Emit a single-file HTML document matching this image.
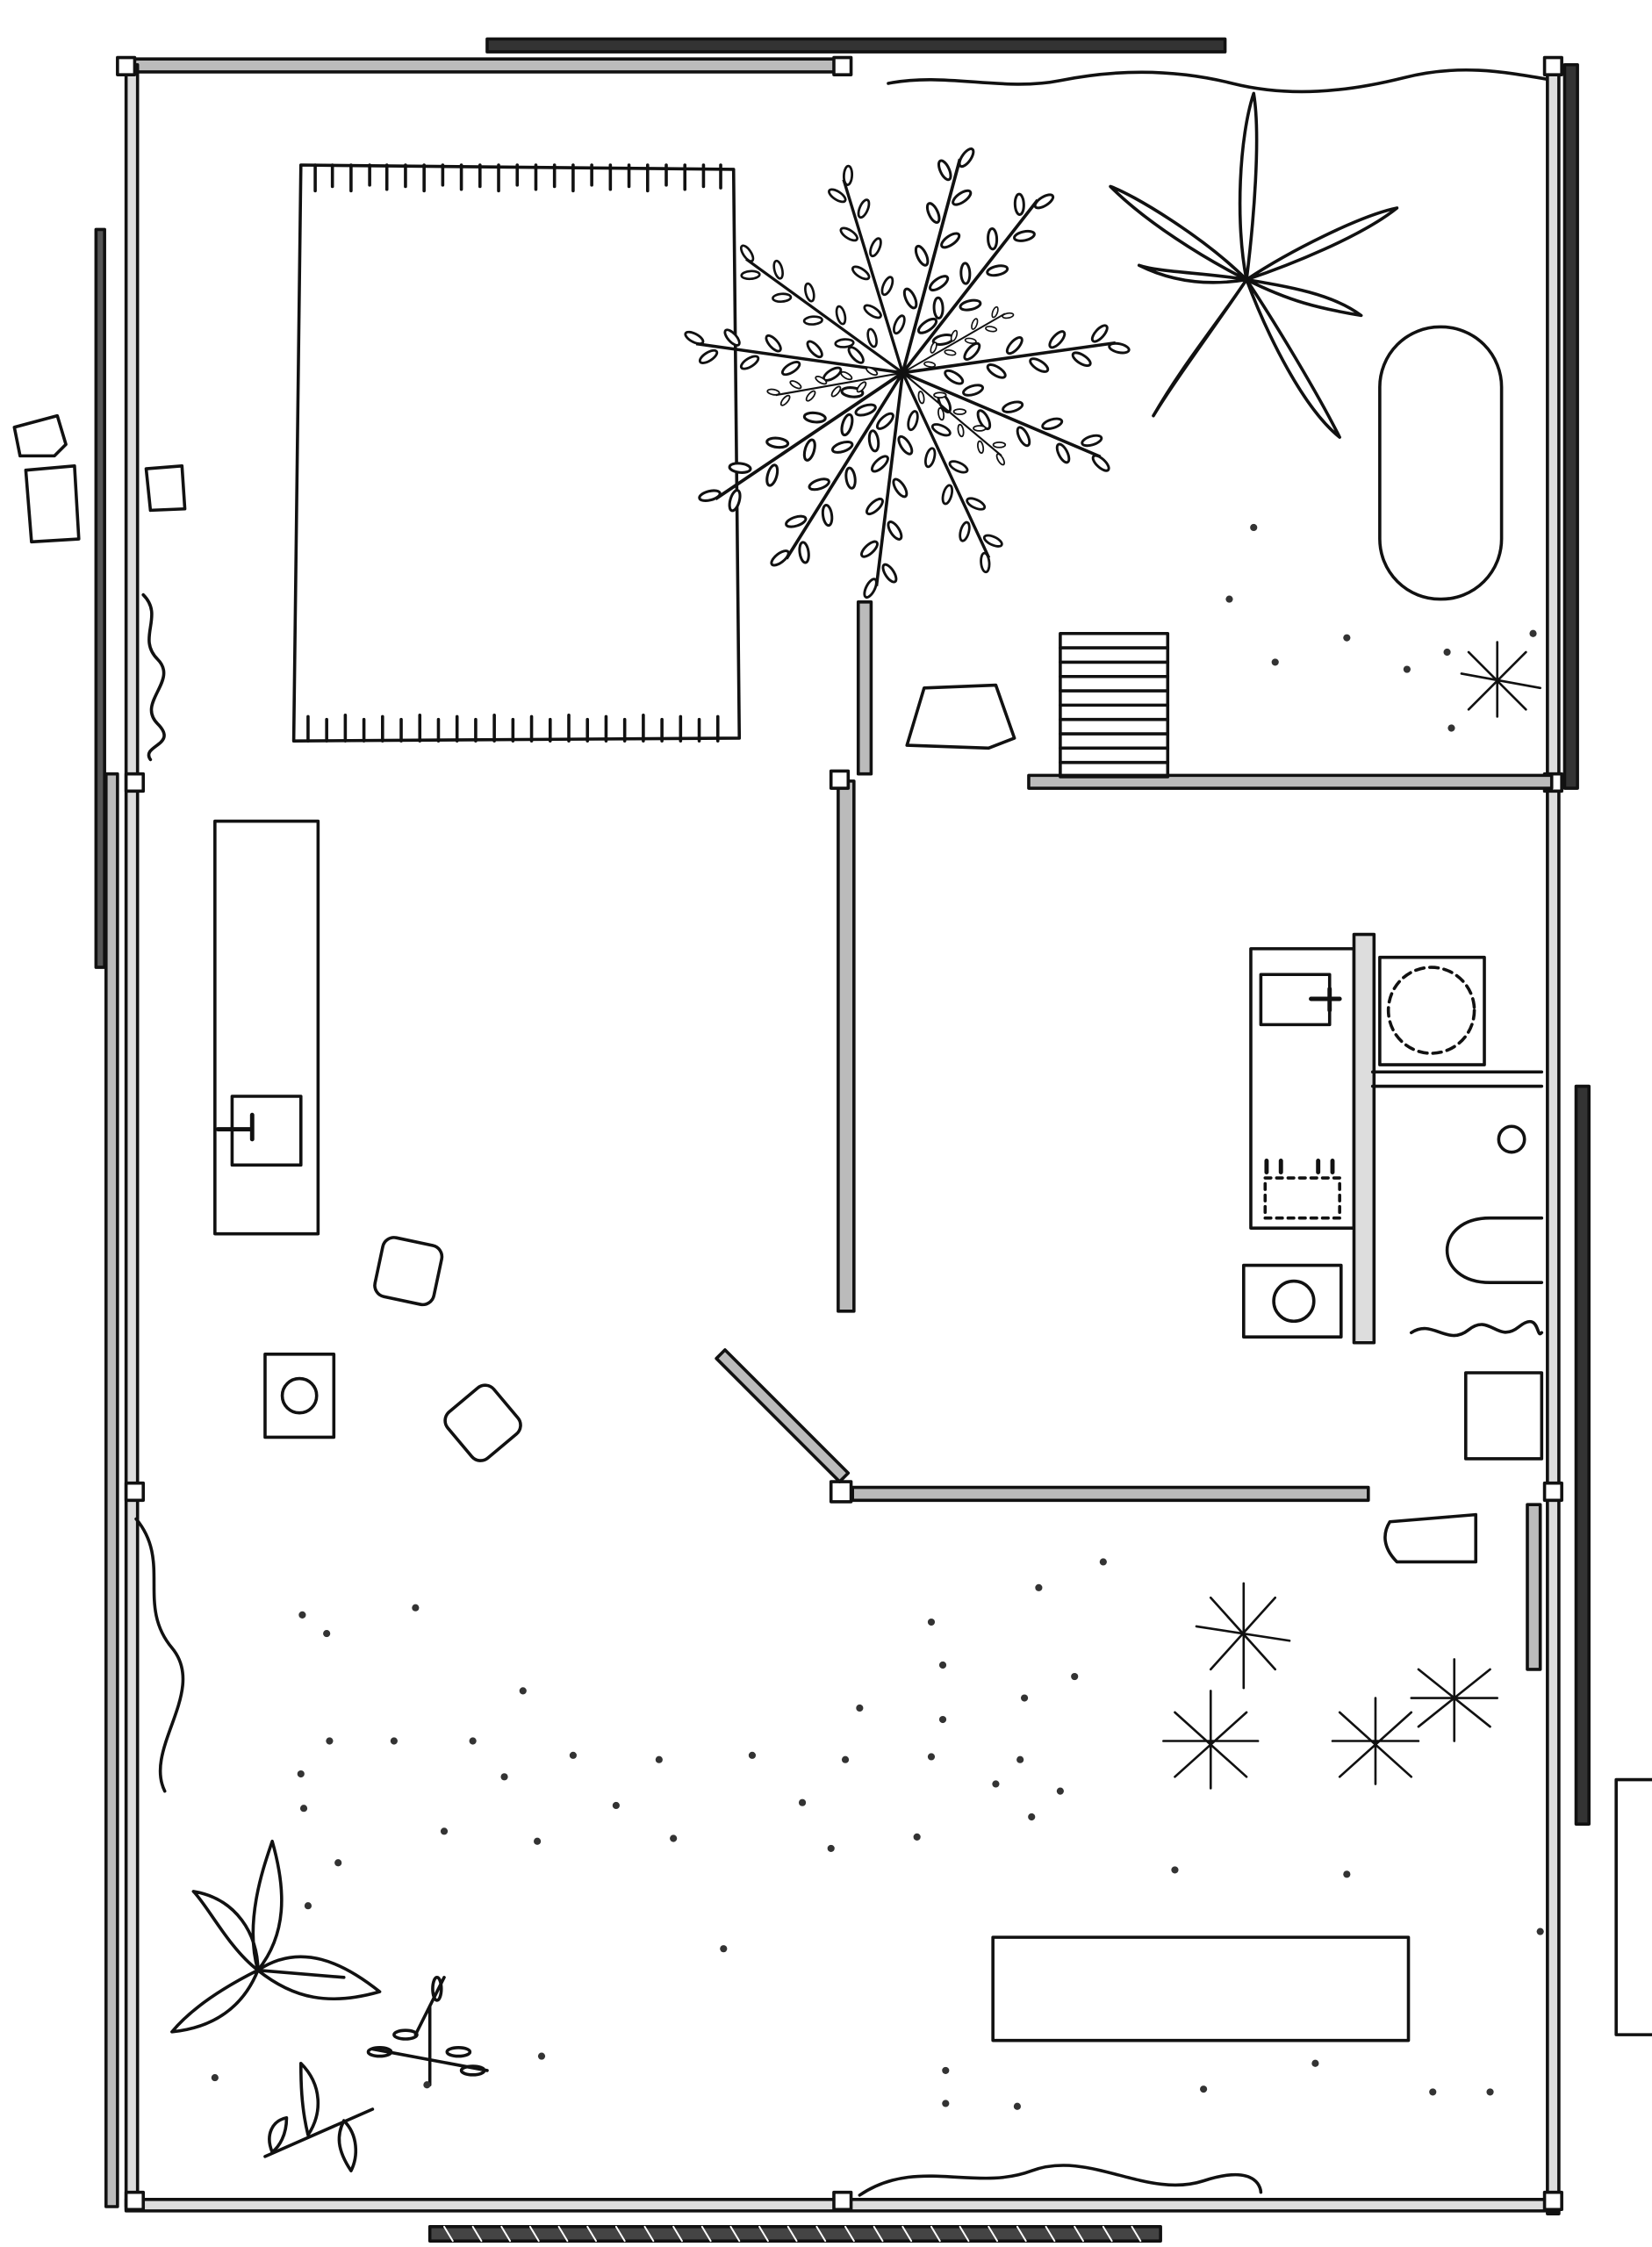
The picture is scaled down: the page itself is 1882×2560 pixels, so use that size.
<!DOCTYPE html>
<html><head><meta charset="utf-8"><style>
html,body{margin:0;padding:0;background:#fff;}
svg{display:block;}
</style></head><body>
<svg width="1882" height="2560" viewBox="0 0 1153 1568" xmlns="http://www.w3.org/2000/svg">
<defs>
<g id="br">
<path d="M0 0 L150 0" stroke="#111" stroke-width="2.2" fill="none"/>
<g fill="#fff" stroke="#111" stroke-width="1.8">
<ellipse cx="35" cy="8" rx="7" ry="3" transform="rotate(40 35 8)"/>
<ellipse cx="50" cy="-8" rx="7" ry="3" transform="rotate(-40 50 -8)"/>
<ellipse cx="65" cy="8" rx="7" ry="3" transform="rotate(40 65 8)"/>
<ellipse cx="80" cy="-8" rx="7" ry="3" transform="rotate(-40 80 -8)"/>
<ellipse cx="95" cy="8" rx="7" ry="3" transform="rotate(40 95 8)"/>
<ellipse cx="110" cy="-8" rx="7" ry="3" transform="rotate(-40 110 -8)"/>
<ellipse cx="125" cy="8" rx="7" ry="3" transform="rotate(40 125 8)"/>
<ellipse cx="140" cy="-8" rx="7" ry="3" transform="rotate(-40 140 -8)"/>
<ellipse cx="152" cy="4" rx="7" ry="3" transform="rotate(20 152 4)"/>
</g>
</g>
</defs>
<g fill="none" stroke="#111" stroke-width="2.2" stroke-linecap="round" stroke-linejoin="round">
<!-- top wall -->
<rect x="88" y="41" width="500" height="9" fill="#bbb"/>
<rect x="340" y="27" width="515" height="9" fill="#333"/>
<path d="M620 58 C660 50 700 64 740 56 S820 48 860 58 S940 64 980 54 S1050 50 1085 56"/>
<!-- right wall -->
<rect x="1080" y="45" width="8" height="1500" fill="#ddd"/>
<rect x="1092" y="45" width="9" height="505" fill="#333"/>
<rect x="1100" y="758" width="9" height="515" fill="#333"/>
<!-- left wall -->
<rect x="88" y="45" width="8" height="1495" fill="#ddd"/>
<rect x="67" y="160" width="6" height="515" fill="#555"/>
<rect x="74" y="540" width="8" height="1000" fill="#bbb"/>
<!-- bottom wall -->
<rect x="88" y="1535" width="1000" height="8" fill="#ddd"/>
<rect x="300" y="1554" width="510" height="10" fill="#444"/>
<path d="M310 1554 l6 10 M330 1554 l6 10 M350 1554 l6 10 M370 1554 l6 10 M390 1554 l6 10 M410 1554 l6 10 M430 1554 l6 10 M450 1554 l6 10 M470 1554 l6 10 M490 1554 l6 10 M510 1554 l6 10 M530 1554 l6 10 M550 1554 l6 10 M570 1554 l6 10 M590 1554 l6 10 M610 1554 l6 10 M630 1554 l6 10 M650 1554 l6 10 M670 1554 l6 10 M690 1554 l6 10 M710 1554 l6 10 M730 1554 l6 10 M750 1554 l6 10 M770 1554 l6 10 M790 1554 l6 10" stroke="#fff" stroke-width="1.2"/>
<path d="M600 1532 C640 1505 680 1530 720 1515 S800 1535 840 1522 S880 1530 880 1530"/>
<!-- corner posts -->
<rect x="82" y="40" width="12" height="12" fill="#fff"/>
<rect x="582" y="40" width="12" height="12" fill="#fff"/>
<rect x="1078" y="40" width="12" height="12" fill="#fff"/>
<rect x="88" y="540" width="12" height="12" fill="#fff"/>
<rect x="88" y="1035" width="12" height="12" fill="#fff"/>
<rect x="88" y="1530" width="12" height="12" fill="#fff"/>
<rect x="582" y="1530" width="12" height="12" fill="#fff"/>
<rect x="1078" y="1530" width="12" height="12" fill="#fff"/>
<rect x="1078" y="540" width="12" height="12" fill="#fff"/>
<rect x="1078" y="1035" width="12" height="12" fill="#fff"/>
<!-- interior walls -->
<rect x="599" y="420" width="9" height="120" fill="#bbb"/>
<rect x="585" y="545" width="11" height="370" fill="#bbb"/>
<rect x="580" y="538" width="12" height="12" fill="#fff"/>
<rect x="718" y="541" width="365" height="9" fill="#bbb"/>
<rect x="595" y="1038" width="360" height="9" fill="#bbb"/>
<rect x="580" y="1034" width="14" height="14" fill="#fff"/>
<path d="M500 948 L506 942 L592 1028 L586 1034 Z" fill="#bbb"/>
<rect x="1066" y="1050" width="9" height="115" fill="#bbb"/>
<!-- wavy curtains left -->
<path d="M100 415 C115 430 95 445 110 460 S95 490 110 505 S98 520 105 530"/>
<path d="M95 1060 C120 1090 95 1120 120 1150 S100 1220 115 1250"/>
<!-- left outside objects -->
<path d="M10 298 L40 290 L46 310 L38 318 L14 318 Z"/>
<path d="M18 328 L52 325 L55 376 L22 378 Z"/>
<path d="M102 327 L127 325 L129 355 L105 356 Z"/>
<!-- rug -->
<path d="M210 115 L512 118 L516 515 L205 517 Z"/>
<path d="M220 115v18 M232 115v15 M245 115v18 M258 115v14 M270 115v17 M283 115v15 M296 115v18 M309 115v14 M322 115v17 M335 115v15 M348 115v18 M361 115v14 M374 115v17 M387 115v15 M400 115v18 M413 115v14 M426 115v17 M439 115v15 M452 115v18 M465 115v14 M478 115v17 M491 115v15 M503 115v16"/>
<path d="M215 500v17 M228 502v15 M241 499v18 M254 502v15 M267 500v17 M280 502v15 M293 499v18 M306 502v15 M319 500v17 M332 502v15 M345 499v18 M358 502v15 M371 500v17 M384 502v15 M397 499v18 M410 502v15 M423 500v17 M436 502v15 M449 499v18 M462 502v15 M475 500v17 M488 502v15 M501 500v17"/>
</g>
<!-- tree -->
<g transform="translate(630,260)">
<use href="#br" transform="rotate(216) scale(0.9)"/>
<use href="#br" transform="rotate(253) scale(0.94)"/>
<use href="#br" transform="rotate(285) scale(1.03)"/>
<use href="#br" transform="rotate(308) scale(1.02)"/>
<use href="#br" transform="rotate(352) scale(1.0)"/>
<use href="#br" transform="rotate(23) scale(1.0)"/>
<use href="#br" transform="rotate(65) scale(0.95)"/>
<use href="#br" transform="rotate(97) scale(1.0)"/>
<use href="#br" transform="rotate(122) scale(1.02)"/>
<use href="#br" transform="rotate(146) scale(1.05)"/>
<use href="#br" transform="rotate(188) scale(0.97)"/>
<use href="#br" transform="rotate(170) scale(0.6)"/>
<use href="#br" transform="rotate(40) scale(0.6)"/>
<use href="#br" transform="rotate(330) scale(0.55)"/>
</g>
<g fill="none" stroke="#111" stroke-width="2.2" stroke-linecap="round" stroke-linejoin="round">
<!-- palm -->
<g transform="translate(870,195)">
<path d="M0 0 C-30 -30 -80 -60 -95 -65 C-70 -40 -30 -15 0 0"/>
<path d="M0 0 C5 -40 10 -100 5 -130 C-5 -100 -8 -40 0 0"/>
<path d="M0 0 C30 -20 80 -45 105 -50 C80 -30 30 -10 0 0"/>
<path d="M0 0 C30 5 60 10 80 25 C50 20 30 15 0 0"/>
<path d="M0 0 C20 30 50 80 65 110 C40 90 15 40 0 0"/>
<path d="M0 0 C-20 30 -50 70 -65 95 C-45 60 -20 30 0 0"/>
<path d="M0 0 C-30 -5 -60 -5 -75 -10 C-55 0 -30 5 0 0"/>
</g>
<!-- tub -->
<rect x="963" y="228" width="85" height="190" rx="42"/>
<!-- stairs -->
<rect x="740" y="442" width="75" height="100"/>
<path d="M740 452h75 M740 462h75 M740 472h75 M740 482h75 M740 492h75 M740 502h75 M740 512h75 M740 522h75 M740 532h75"/>
<!-- rock -->
<path d="M645 480 L695 478 L708 515 L690 522 L633 520 Z"/>
<!-- star small top right -->
<path d="M1045 448 L1045 500 M1020 470 L1075 480 M1025 455 L1065 495 M1065 455 L1025 495" stroke-width="1.6"/>
<!-- kitchen counter -->
<rect x="150" y="573" width="72" height="288"/>
<rect x="162" y="765" width="48" height="48"/>
<path d="M152 788 H176 M176 778 V795" stroke-width="3"/>
<!-- stools -->
<rect x="264" y="866" width="42" height="42" rx="8" transform="rotate(12 285 887)"/>
<rect x="185" y="945" width="48" height="58"/>
<circle cx="209" cy="974" r="12"/>
<rect x="316" y="972" width="42" height="42" rx="8" transform="rotate(-40 337 993)"/>
<!-- bathroom -->
<rect x="873" y="662" width="72" height="195"/>
<rect x="880" y="680" width="48" height="35"/>
<path d="M915 697 H935 M928 690 V705" stroke-width="3"/>
<rect x="883" y="822" width="52" height="28" stroke-dasharray="4 4"/>
<path d="M884 810 v8 M894 810 v8 M920 810 v8 M930 810 v8" stroke-width="3"/>
<rect x="945" y="652" width="14" height="285" fill="#ddd"/>
<rect x="963" y="668" width="73" height="75"/>
<circle cx="999" cy="705" r="30" stroke-dasharray="6 4"/>
<path d="M958 748 H1076 M958 758 H1076"/>
<circle cx="1055" cy="795" r="9"/>
<path d="M1076 850 H1040 C1000 850 1000 895 1040 895 H1076"/>
<rect x="868" y="883" width="68" height="50"/>
<circle cx="903" cy="908" r="14"/>
<path d="M985 930 C1000 920 1010 940 1025 928 S1045 938 1060 926 S1072 935 1076 930"/>
<rect x="1023" y="958" width="53" height="60"/>
<path d="M970 1062 L1030 1057 L1030 1090 L975 1090 C965 1080 965 1070 970 1062 Z"/>
<!-- bench -->
<rect x="693" y="1352" width="290" height="72"/>
<!-- stars -->
<path d="M868 1105 L868 1178 M835 1135 L900 1145 M845 1115 L890 1165 M890 1115 L845 1165" stroke-width="1.6"/>
<path d="M845 1180 L845 1248 M812 1215 L878 1215 M820 1195 L870 1240 M870 1195 L820 1240" stroke-width="1.6"/>
<path d="M960 1185 L960 1245 M930 1215 L990 1215 M935 1195 L985 1240 M985 1195 L935 1240" stroke-width="1.6"/>
<path d="M1015 1158 L1015 1215 M985 1185 L1045 1185 M990 1165 L1040 1205 M1040 1165 L990 1205" stroke-width="1.6"/>
<!-- right outside rect -->
<path d="M1128 1242 H1158 M1128 1242 V1420 H1158"/>
<!-- bottom-left plants -->
<path d="M180 1375 C170 1340 185 1300 190 1285 C200 1320 200 1350 180 1375 Z"/>
<path d="M180 1375 C160 1360 145 1330 135 1320 C165 1325 180 1350 180 1375 Z"/>
<path d="M180 1375 C210 1355 240 1370 265 1390 C230 1400 205 1395 180 1375 Z"/>
<path d="M180 1375 C160 1385 135 1400 120 1418 C150 1415 170 1400 180 1375 Z"/>
<path d="M180 1375 L240 1380"/>
<path d="M260 1430 L340 1445 M300 1400 L300 1455 M310 1380 L290 1420"/>
<ellipse cx="320" cy="1432" rx="8" ry="3"/><ellipse cx="283" cy="1420" rx="8" ry="3"/><ellipse cx="305" cy="1388" rx="3" ry="8"/><ellipse cx="330" cy="1445" rx="8" ry="3"/><ellipse cx="265" cy="1432" rx="8" ry="3"/>
<path d="M185 1505 L260 1472"/>
<path d="M215 1490 C210 1470 210 1450 210 1440 C225 1455 225 1475 215 1490 Z"/>
<path d="M190 1502 C185 1490 190 1480 200 1478 C200 1490 195 1498 190 1502 Z"/>
<path d="M240 1480 C250 1490 250 1505 245 1515 C235 1500 235 1490 240 1480 Z"/>
</g>
<!-- dots -->
<g fill="#333">
<circle cx="875" cy="368" r="2.5"/><circle cx="858" cy="418" r="2.5"/><circle cx="890" cy="462" r="2.5"/><circle cx="940" cy="445" r="2.5"/><circle cx="982" cy="467" r="2.5"/><circle cx="1010" cy="455" r="2.5"/><circle cx="1013" cy="508" r="2.5"/><circle cx="1070" cy="442" r="2.5"/>
<circle cx="770" cy="1090" r="2.5"/><circle cx="725" cy="1108" r="2.5"/><circle cx="211" cy="1127" r="2.5"/><circle cx="228" cy="1140" r="2.5"/><circle cx="290" cy="1122" r="2.5"/><circle cx="650" cy="1132" r="2.5"/><circle cx="658" cy="1162" r="2.5"/><circle cx="750" cy="1170" r="2.5"/><circle cx="715" cy="1185" r="2.5"/><circle cx="658" cy="1200" r="2.5"/><circle cx="600" cy="1192" r="2.5"/><circle cx="365" cy="1180" r="2.5"/>
<circle cx="230" cy="1215" r="2.5"/><circle cx="275" cy="1215" r="2.5"/><circle cx="330" cy="1215" r="2.5"/><circle cx="400" cy="1225" r="2.5"/><circle cx="460" cy="1228" r="2.5"/><circle cx="525" cy="1225" r="2.5"/><circle cx="590" cy="1228" r="2.5"/><circle cx="650" cy="1226" r="2.5"/><circle cx="712" cy="1228" r="2.5"/><circle cx="210" cy="1238" r="2.5"/><circle cx="352" cy="1240" r="2.5"/><circle cx="430" cy="1260" r="2.5"/><circle cx="560" cy="1258" r="2.5"/><circle cx="695" cy="1245" r="2.5"/><circle cx="740" cy="1250" r="2.5"/><circle cx="720" cy="1268" r="2.5"/><circle cx="212" cy="1262" r="2.5"/><circle cx="310" cy="1278" r="2.5"/><circle cx="375" cy="1285" r="2.5"/><circle cx="470" cy="1283" r="2.5"/><circle cx="580" cy="1290" r="2.5"/><circle cx="640" cy="1282" r="2.5"/>
<circle cx="236" cy="1300" r="2.5"/><circle cx="820" cy="1305" r="2.5"/><circle cx="940" cy="1308" r="2.5"/><circle cx="215" cy="1330" r="2.5"/><circle cx="1075" cy="1348" r="2.5"/><circle cx="505" cy="1360" r="2.5"/><circle cx="378" cy="1435" r="2.5"/><circle cx="150" cy="1450" r="2.5"/><circle cx="660" cy="1445" r="2.5"/><circle cx="840" cy="1458" r="2.5"/><circle cx="918" cy="1440" r="2.5"/><circle cx="1000" cy="1460" r="2.5"/><circle cx="660" cy="1468" r="2.5"/><circle cx="710" cy="1470" r="2.5"/><circle cx="1040" cy="1460" r="2.5"/><circle cx="298" cy="1455" r="2.5"/>
</g>
</svg>
</body></html>
